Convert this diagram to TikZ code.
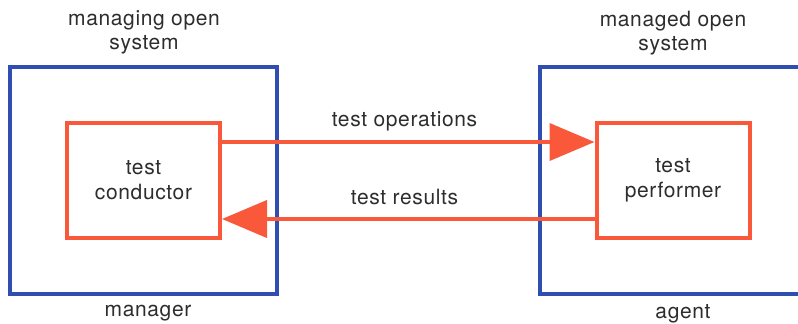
\documentclass[tikz,border=0pt]{standalone}
\usepackage{fontspec}
\setmainfont{TeX Gyre Heros}[LetterSpace=3]
\usetikzlibrary{arrows.meta}
\definecolor{sysblue}{RGB}{48,78,178}
\definecolor{entorange}{RGB}{250,88,58}
\definecolor{txt}{RGB}{45,45,45}
\tikzset{
  sysbox/.style={draw=sysblue, line width=4pt, rectangle, minimum width=267pt, minimum height=227pt, inner sep=0pt},
  entbox/.style={draw=entorange, line width=4pt, rectangle, minimum width=153pt, minimum height=115pt, align=center, text=txt, font=\fontsize{21}{25}\selectfont},
  lbl/.style={text=txt, align=center, font=\fontsize{21}{24}\selectfont, inner sep=0pt},
  flow/.style={draw=entorange, line width=4pt, -{Triangle[length=45pt,width=37pt]}}
}
\begin{document}
\begin{tikzpicture}[x=1pt,y=-1pt]
  \clip (0,0) rectangle (798,324);
  \fill[white] (0,0) rectangle (798,324);
  % open systems
  \node[sysbox] (mgr) at (143.5,180.5) {};
  \node[sysbox, minimum width=270pt] (agt) at (675,180.5) {};
  % test entities
  \node[entbox] (tc) at (143.5,180.5) {test\\conductor};
  \node[entbox] (tp) at (673,180.5) {test\\performer};
  % flows
  \draw[flow] ([yshift=38.5pt]tc.east) -- ([yshift=38.5pt]tp.west)
    node[lbl, pos=0.49, above=9pt] (ops) {test operations};
  \draw[flow] ([yshift=-38.5pt]tp.west) -- ([yshift=-38.5pt]tc.east)
    node[lbl, pos=0.51, above=12pt] (res) {test results};
  % captions
  \node[lbl] (mgrtop) at (144,32) {managing open\\system};
  \node[lbl] (agttop) at (673,33) {managed open\\system};
  \node[lbl] (mgrbot) at (148,313) {manager};
  \node[lbl] (agtbot) at (683,314) {agent};
\end{tikzpicture}
\end{document}
